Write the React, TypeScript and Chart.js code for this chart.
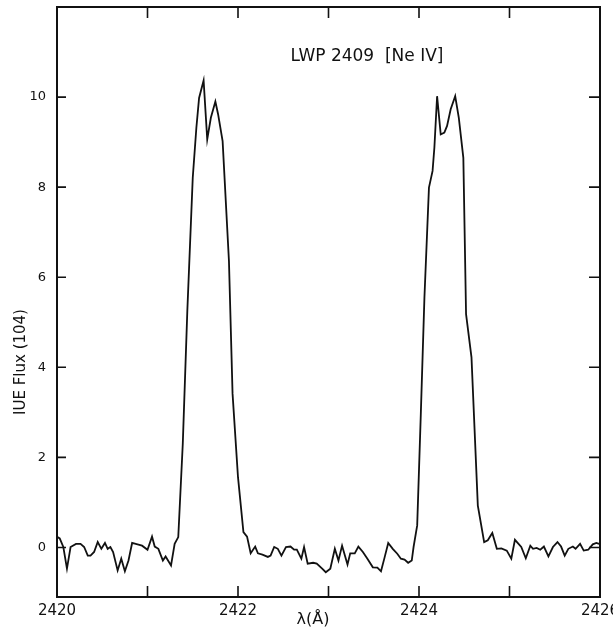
import React, { useEffect, useRef } from "react";
import { Chart, registerables } from "chart.js";

Chart.register(...registerables);

const wavelength = [
  2420.0, 2420.03, 2420.07, 2420.11, 2420.15, 2420.21, 2420.26, 2420.3, 2420.34, 2420.37,
  2420.41, 2420.45, 2420.49, 2420.53, 2420.56, 2420.59, 2420.62, 2420.67, 2420.71, 2420.75,
  2420.79, 2420.83, 2420.89, 2420.94, 2421.0, 2421.05, 2421.08, 2421.12, 2421.17, 2421.2,
  2421.26, 2421.3, 2421.34, 2421.39, 2421.44, 2421.5, 2421.54, 2421.57, 2421.62, 2421.66,
  2421.7, 2421.75, 2421.78, 2421.83, 2421.9, 2421.94, 2422.0, 2422.06, 2422.1, 2422.14,
  2422.19, 2422.22, 2422.27, 2422.33, 2422.36, 2422.4, 2422.44, 2422.48, 2422.53, 2422.58,
  2422.62, 2422.65, 2422.7, 2422.73, 2422.77, 2422.83, 2422.87, 2422.93, 2422.97, 2423.02,
  2423.07, 2423.11, 2423.15, 2423.21, 2423.24, 2423.29, 2423.33, 2423.38, 2423.43, 2423.49,
  2423.54, 2423.58, 2423.62, 2423.66, 2423.71, 2423.76, 2423.8, 2423.84, 2423.88, 2423.92,
  2423.94, 2423.98, 2424.02, 2424.06, 2424.11, 2424.15, 2424.17, 2424.2, 2424.24, 2424.28,
  2424.31, 2424.35, 2424.4, 2424.44, 2424.49, 2424.52, 2424.58, 2424.65, 2424.72, 2424.76,
  2424.81, 2424.86, 2424.91, 2424.97, 2425.02, 2425.06, 2425.1, 2425.13, 2425.18, 2425.23,
  2425.26, 2425.3, 2425.34, 2425.38, 2425.43, 2425.48, 2425.53, 2425.57, 2425.61, 2425.65,
  2425.7, 2425.73, 2425.78, 2425.82, 2425.87, 2425.92, 2425.96, 2425.99,
];

const flux = [
  0.24, 0.2, 0.01, -0.47, 0.01, 0.08, 0.08, 0.01, -0.18, -0.18,
  -0.1, 0.12, -0.03, 0.1, -0.03, 0.01, -0.1, -0.51, -0.25, -0.53,
  -0.29, 0.1, 0.07, 0.04, -0.05, 0.24, 0.02, -0.03, -0.29, -0.2,
  -0.4, 0.08, 0.23, 2.31, 5.25, 8.21, 9.32, 9.98, 10.37, 9.06,
  9.54, 9.9, 9.62, 9.02, 6.36, 3.41, 1.56, 0.34, 0.24, -0.13,
  0.02, -0.13, -0.16, -0.21, -0.18, 0.01, -0.03, -0.18, 0.01, 0.02,
  -0.05, -0.05, -0.25, 0.01, -0.36, -0.34, -0.36, -0.47, -0.55, -0.47,
  -0.03, -0.29, 0.04, -0.38, -0.13, -0.13, 0.02, -0.1, -0.25, -0.44,
  -0.45, -0.53, -0.22, 0.1, -0.03, -0.14, -0.25, -0.27, -0.34, -0.29,
  0.01, 0.49, 2.96, 5.55, 7.99, 8.36, 8.88, 10.02, 9.17, 9.21,
  9.36, 9.73, 10.02, 9.54, 8.65, 5.18, 4.22, 0.93, 0.12, 0.16,
  0.32, -0.03, -0.02, -0.07, -0.25, 0.17, 0.08, 0.01, -0.24, 0.04,
  -0.03, -0.01, -0.05, 0.02, -0.2, 0.01, 0.12, 0.02, -0.18, -0.03,
  0.02, -0.03, 0.08, -0.07, -0.05, 0.07, 0.1, 0.08,
];

const xTickValues = [2420, 2421, 2422, 2423, 2424, 2425, 2426];
const xLabelValues = [2420, 2422, 2424, 2426];
const yTickValues = [0, 2, 4, 6, 8, 10];

const titleText = "LWP 2409  [Ne IV]";
const yTitle = "IUE Flux (104)";
const xTitle = "λ(Å)";

const FONT = "'DejaVu Sans', sans-serif";
const INK = "#111";

const framePlugin = {
  id: "frame",
  afterDraw(chart: any) {
    const { ctx, chartArea, scales } = chart;
    const { left, right, top, bottom } = chartArea;
    const xs = scales.x;
    const ys = scales.y;
    ctx.save();
    ctx.strokeStyle = INK;
    ctx.lineWidth = 2;
    ctx.strokeRect(left, top, right - left, bottom - top);
    ctx.lineWidth = 1.6;
    ctx.beginPath();
    for (const v of xTickValues) {
      const px = xs.getPixelForValue(v);
      if (px <= left + 1 || px >= right - 1) continue;
      ctx.moveTo(px, bottom);
      ctx.lineTo(px, bottom - 11);
      ctx.moveTo(px, top);
      ctx.lineTo(px, top + 11);
    }
    for (const v of yTickValues) {
      const py = ys.getPixelForValue(v);
      ctx.moveTo(left, py);
      ctx.lineTo(left + 9, py);
      ctx.moveTo(right, py);
      ctx.lineTo(right - 11, py);
    }
    ctx.stroke();

    ctx.fillStyle = INK;
    ctx.textBaseline = "middle";
    ctx.textAlign = "center";
    ctx.font = `17px ${FONT}`;
    ctx.fillText(titleText, 367, 57);

    ctx.font = `16px ${FONT}`;
    ctx.fillText(xTitle, 313, 620);

    ctx.save();
    ctx.translate(21, 362);
    ctx.rotate(-Math.PI / 2);
    ctx.font = `15px ${FONT}`;
    ctx.fillText(yTitle, 0, 0);
    ctx.restore();
    ctx.restore();
  },
};

const zeroPadding = (s: any) => {
  s.paddingTop = 0;
  s.paddingBottom = 0;
  s.paddingLeft = 0;
  s.paddingRight = 0;
};

export default function App() {
  const ref = useRef<HTMLCanvasElement | null>(null);
  useEffect(() => {
    if (!ref.current) return;
    const points = wavelength.map((w, i) => ({ x: w, y: flux[i] }));
    const chart = new Chart(ref.current, {
      type: "line",
      data: {
        datasets: [
          {
            data: points,
            borderColor: INK,
            borderWidth: 1.8,
            pointRadius: 0,
            tension: 0,
            fill: false,
          },
        ],
      },
      options: {
        animation: false,
        responsive: false,
        layout: { padding: { left: 0, right: 13, top: 7, bottom: 0 } },
        plugins: { legend: { display: false }, tooltip: { enabled: false }, title: { display: false } },
        scales: {
          x: {
            type: "linear",
            min: 2420,
            max: 2426,
            grid: { display: false, drawTicks: false },
            border: { display: false },
            afterBuildTicks: (s: any) => {
              s.ticks = xTickValues.map((v) => ({ value: v }));
            },
            afterFit: (s: any) => {
              s.height = 35;
              zeroPadding(s);
            },
            ticks: {
              autoSkip: false,
              maxRotation: 0,
              padding: 5,
              color: INK,
              font: { family: FONT, size: 15 },
              callback: (v: any) => (xLabelValues.includes(Number(v)) ? String(v) : ""),
            },
          },
          y: {
            type: "linear",
            min: -1.1,
            max: 12,
            grid: { display: false, drawTicks: false },
            border: { display: false },
            afterBuildTicks: (s: any) => {
              s.ticks = yTickValues.map((v) => ({ value: v }));
            },
            afterFit: (s: any) => {
              s.width = 57;
              zeroPadding(s);
            },
            ticks: {
              padding: 11,
              color: INK,
              font: { family: FONT, size: 13 },
              callback: (v: any) => String(v),
            },
          },
        },
      },
      plugins: [framePlugin],
    });
    return () => chart.destroy();
  }, []);
  return (
    <div style={{ position: "absolute", left: 0, top: 0, width: 613, height: 632, background: "#fff" }}>
      <canvas ref={ref} width={613} height={632} style={{ display: "block" }} />
    </div>
  );
}
